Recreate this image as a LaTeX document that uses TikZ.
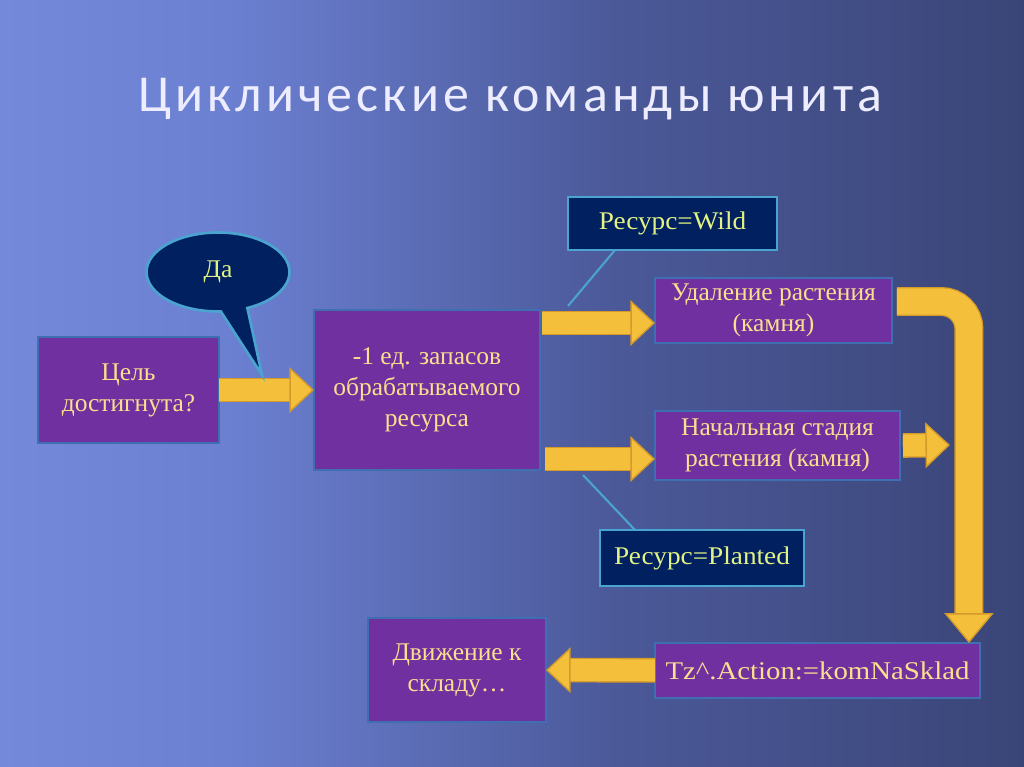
\documentclass[tikz,border=0pt]{standalone}
\usepackage{fontspec}
\setmainfont{Liberation Serif}
\newfontfamily\titlefont[LetterSpace=8]{Carlito}
\usetikzlibrary{arrows.meta,positioning,shapes.geometric,shapes.callouts}
\definecolor{BgLight}{HTML}{7589DB}
\definecolor{BgSoft}{HTML}{6C80D2}
\definecolor{BgMid}{HTML}{4B5999}
\definecolor{BgDark}{HTML}{3A4577}
\definecolor{BoxPurple}{HTML}{7030A0}
\definecolor{BoxEdge}{HTML}{3F6FB0}
\definecolor{CondNavy}{HTML}{002060}
\definecolor{CondEdge}{HTML}{4BA3D0}
\definecolor{ArrowGold}{HTML}{F4BF3A}
\definecolor{ArrowEdge}{HTML}{D49A2A}
\definecolor{TextCream}{HTML}{FADF8E}
\definecolor{TextLime}{HTML}{E2F285}
\pgfdeclarehorizontalshading{slidebg}{100bp}{color(0bp)=(BgLight); color(25bp)=(BgLight); color(36bp)=(BgSoft); color(55bp)=(BgMid); color(75bp)=(BgDark); color(100bp)=(BgDark)}

\begin{document}
\begin{tikzpicture}[x=0.02cm,y=-0.02cm,
  proc/.style={draw=BoxEdge,line width=1.5pt,fill=BoxPurple,align=center,text=TextCream,font=\fontsize{14.5}{17.6}\selectfont,inner sep=2pt,outer sep=0pt},
  cond/.style={draw=CondEdge,line width=1.5pt,fill=CondNavy,align=center,text=TextLime,font=\fontsize{14.5}{17.6}\selectfont\addfontfeature{FakeStretch=1.07},inner sep=2pt,outer sep=0pt},
  bubble/.style={ellipse callout,draw=CondEdge,line width=1.5pt,fill=CondNavy,text=TextLime,font=\fontsize{14.5}{17.6}\selectfont,minimum width=2.86cm,minimum height=1.58cm,callout pointer arc=22},
  arr/.style={line width=12.5pt,draw=ArrowGold,-{Triangle[length=14pt,width=26pt,fill=ArrowGold,color=ArrowEdge,line width=0.8pt]},preaction={draw=ArrowEdge,-,line width=14pt,shorten >=13pt}},
  bigarr/.style={line width=15pt,draw=ArrowGold,rounded corners=0.55cm,-{Triangle[length=17pt,width=28pt,fill=ArrowGold,color=ArrowEdge,line width=0.8pt]},preaction={draw=ArrowEdge,-,line width=16.5pt,shorten >=16pt}},
  link/.style={draw=CondEdge,line width=1.2pt}
]
\useasboundingbox (0,0) rectangle (1024,767);
\shade[shading=slidebg] (0,0) rectangle (1024,767);

\node[text=white!93!blue,font=\titlefont\fontsize{29.5}{36}\selectfont] (title) at (510,99) {Циклические команды юнита};

\node[proc,minimum width=3.62cm,minimum height=2.12cm] (goal) at (128.5,390) {Цель\\достигнута?};
\node[proc,minimum width=4.52cm,minimum height=3.2cm] (process) at (427,390) {-1 ед. запасов\\обрабатываемого\\ресурса};
\node[cond,minimum width=4.18cm,minimum height=1.06cm] (wild) at (672.5,223.5) {Ресурс=Wild};
\node[proc,minimum width=4.74cm,minimum height=1.3cm] (remove) at (773.5,310.5) {Удаление растения\\(камня)};
\node[proc,minimum width=4.9cm,minimum height=1.38cm] (initial) at (777.5,445.5) {Начальная стадия\\растения (камня)};
\node[cond,minimum width=4.08cm,minimum height=1.12cm] (planted) at (702,558) {Ресурс=Planted};
\node[proc,minimum width=6.5cm,minimum height=1.1cm,font=\fontsize{14.5}{17.6}\selectfont\addfontfeature{FakeStretch=1.13}] (tz) at (817.5,670.5) {Tz\^{}.Action:=komNaSklad};
\node[proc,minimum width=3.56cm,minimum height=2.08cm] (move) at (457,670) {Движение к\\складу…};

\coordinate (yestip) at (262,375);
\coordinate (wildend) at (568,306);
\coordinate (plantend) at (583,475);
\coordinate (join) at (950,445);

\draw[link] ([xshift=0.94cm]wild.south west) -- (wildend);
\draw[link] (plantend) -- ([xshift=0.7cm]planted.north west);

\draw[arr] (goal) -- (process);
\draw[arr] ([xshift=0.04cm,yshift=-0.25cm]remove.west -| process.east) -- ([yshift=-0.25cm]remove.west);
\draw[arr] ([xshift=0.1cm,yshift=-0.27cm]initial.west -| process.east) -- ([yshift=-0.27cm]initial.west);
\draw[arr] ([xshift=0.06cm]initial.east) -- (join);
\draw[bigarr] ([xshift=0.1cm,yshift=0.18cm]remove.east) -| ([xshift=-0.22cm]tz.north east);
\draw[arr] (tz) -- (move);

\node[bubble,callout absolute pointer={(yestip)}] (yes) at (218,272) {Да};
\end{tikzpicture}
\end{document}
